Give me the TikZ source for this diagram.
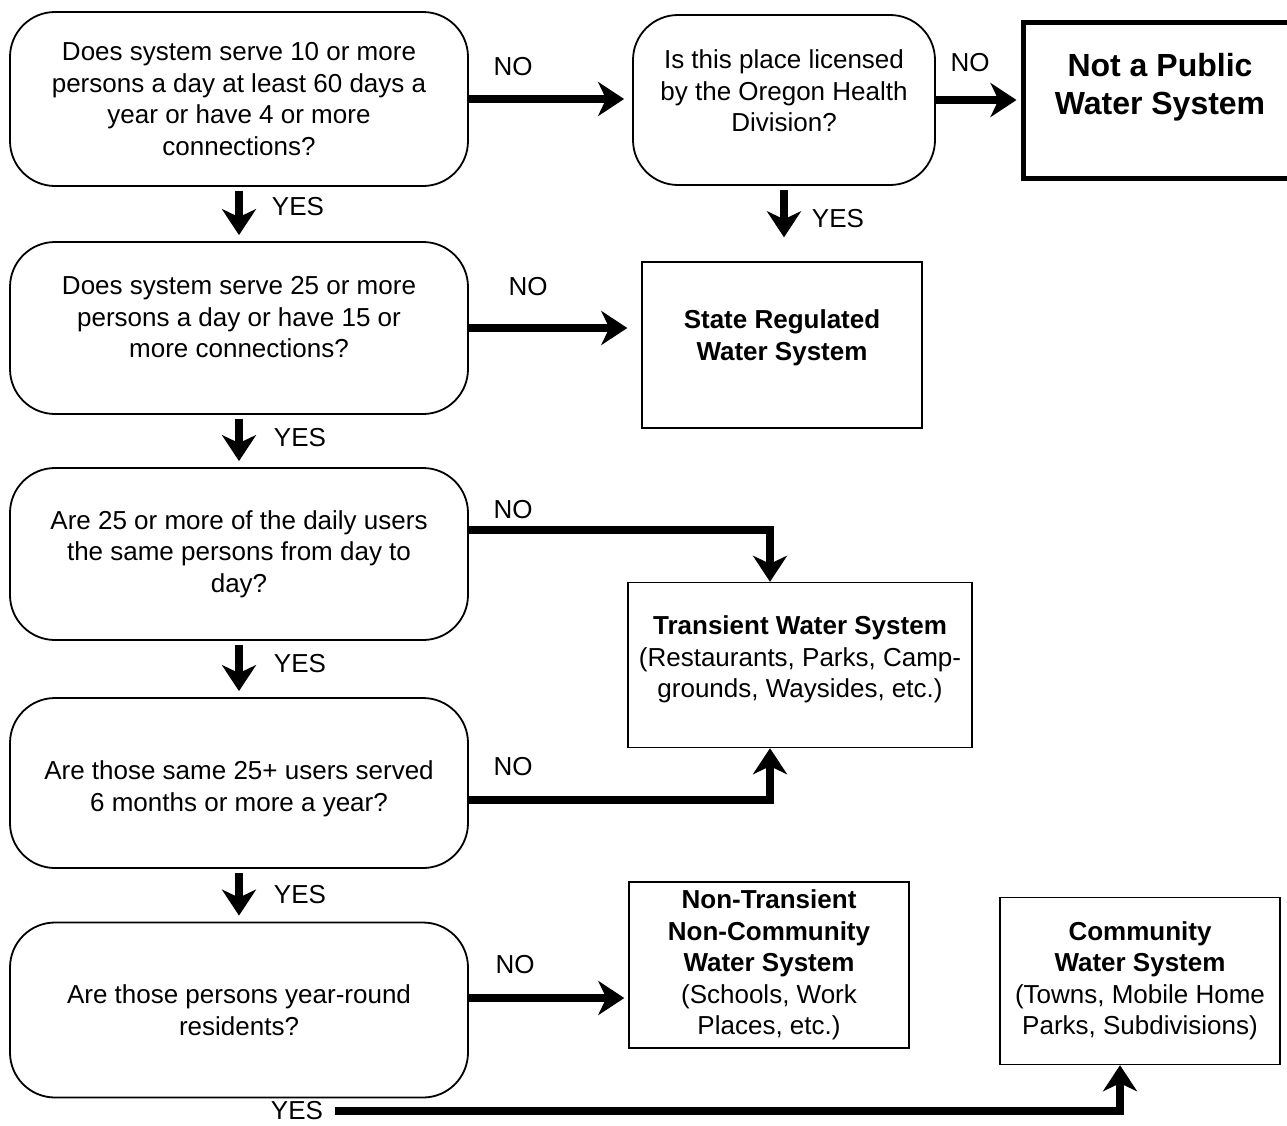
\documentclass[tikz,border=0pt]{standalone}
\usepackage{fontspec}
\setmainfont{Liberation Sans}
\usetikzlibrary{positioning,arrows.meta}

\tikzset{
  question/.style={draw, line width=1.8pt, rounded corners=45pt, minimum width=458pt,
    align=center, font=\fontsize{26}{31.5}\selectfont},
  outcome/.style={draw, line width=1.4pt, align=center, font=\fontsize{26}{31.5}\selectfont},
  answer/.style={inner sep=0pt, font=\fontsize{26}{30}\selectfont},
  flow/.style={line width=8.5pt, -{Stealth[length=26pt, width=34pt, inset=8pt]}}
}

\begin{document}
\begin{tikzpicture}[x=1pt, y=-1pt]
    \useasboundingbox (0,0) rectangle (1287,1125);

    % questions down the left
    \node[question, minimum height=174pt] (q1) at (239,99) {Does system serve 10 or more\\persons a day at least 60 days a\\year or have 4 or more\\connections?};
    \node[question, minimum height=172pt, text depth=22pt] (q3) at (239,328) {Does system serve 25 or more\\persons a day or have 15 or\\more connections?};
    \node[question, minimum height=172pt] (q4) at (239,554) {Are 25 or more of the daily users\\the same persons from day to\\day?};
    \node[question, minimum height=170pt, text height=62pt] (q5) at (239,783) {Are those same 25+ users served\\6 months or more a year?};
    \node[question, minimum height=175pt] (q6) at (239,1010) {Are those persons year-round\\residents?};
    \node[question, minimum width=302pt, minimum height=170pt, text depth=18pt] (q2) at (784,100) {Is this place licensed\\by the Oregon Health\\Division?};

    % outcomes
    \node[draw, line width=5pt, minimum width=274pt, minimum height=156pt, text depth=32pt, align=center,
      font=\fontsize{32}{38}\selectfont\bfseries] (notpub) at (1160,100) {Not a Public\\Water System};
    \node[outcome, minimum width=280pt, minimum height=166pt, text depth=20pt] (state) at (782,345) {\textbf{State Regulated}\\\textbf{Water System}};
    \node[outcome, minimum width=344pt, minimum height=165pt, text depth=16pt] (trans) at (800,665) {\textbf{Transient Water System}\\(Restaurants, Parks, Camp-\\grounds, Waysides, etc.)};
    \node[outcome, minimum width=280pt, minimum height=166pt] (ntnc) at (769,965) {\textbf{Non-Transient}\\\textbf{Non-Community}\\\textbf{Water System}\\(Schools, Work\\Places, etc.)};
    \node[outcome, minimum width=280pt, minimum height=167pt] (comm) at (1140,981) {\textbf{Community}\\\textbf{Water System}\\(Towns, Mobile Home\\Parks, Subdivisions)};

    % answers
    \node[answer] (no1) at (513,67) {NO};
    \node[answer] (no2) at (970,63) {NO};
    \node[answer] (no3) at (528,287) {NO};
    \node[answer] (no4) at (513,510) {NO};
    \node[answer] (no5) at (513,767) {NO};
    \node[answer] (no6) at (515,965) {NO};
    \node[answer] (yes1) at (298,207) {YES};
    \node[answer] (yes2) at (838,219) {YES};
    \node[answer] (yes3) at (300,438) {YES};
    \node[answer] (yes4) at (300,664) {YES};
    \node[answer] (yes5) at (300,895) {YES};
    \node[answer] (yes6) at (297,1111) {YES};

    % YES arrows
    \draw[flow, shorten <=4pt, shorten >=6pt] (q1.south) -- (q3.north);
    \draw[flow, shorten <=4pt, shorten >=6pt] (q3.south) -- (q4.north);
    \draw[flow, shorten <=4pt, shorten >=6pt] (q4.south) -- (q5.north);
    \draw[flow, shorten <=4pt, shorten >=6pt] (q5.south) -- (q6.north);
    \draw[flow, shorten <=4pt, shorten >=24pt] (q2.south) -- (q2.south |- state.north);
    \draw[flow] ([xshift=12pt]yes6.east) -| ([xshift=-20pt]comm.south);

    % NO arrows
    \draw[flow, shorten >=8pt] (q1.east) -- (q1.east -| q2.west);
    \draw[flow, shorten >=4pt] (q2.east) -- (q2.east -| notpub.west);
    \draw[flow, shorten >=14pt] (q3.east) -- (q3.east -| state.west);
    \draw[flow] ([yshift=24pt]q4.east) -| ([xshift=-30pt]trans.north);
    \draw[flow] ([yshift=-17pt]q5.east) -| ([xshift=-30pt]trans.south);
    \draw[flow, shorten >=4pt] ([yshift=12pt]q6.east) -- ([yshift=12pt]q6.east -| ntnc.west);

\end{tikzpicture}
\end{document}
